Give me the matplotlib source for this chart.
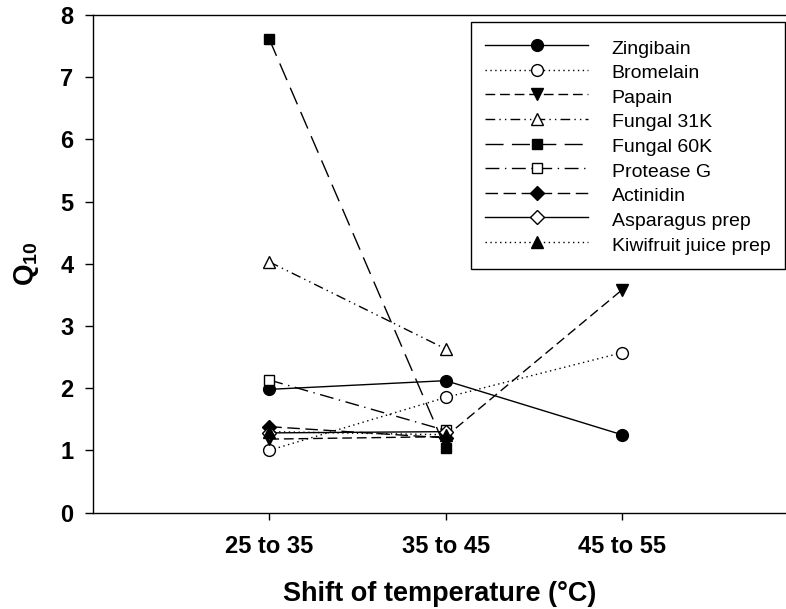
import matplotlib
matplotlib.use("Agg")
import matplotlib.pyplot as plt

plt.rcParams['font.family'] = ['Liberation Sans', 'DejaVu Sans']
plt.rcParams['lines.scale_dashes'] = False
plt.rcParams['mathtext.fontset'] = 'custom'
plt.rcParams['mathtext.rm'] = 'Liberation Sans:bold'
plt.rcParams['mathtext.bf'] = 'Liberation Sans:bold'

categories = ["25 to 35", "35 to 45", "45 to 55"]
yticks = [0, 1, 2, 3, 4, 5, 6, 7, 8]

zingibain = [1.98, 2.12, 1.25]
bromelain = [1.00, 1.85, 2.57]
papain = [1.18, 1.22, 3.58]
fungal31k = [4.03, 2.63]
fungal60k = [7.61, 1.03]
proteaseg = [2.13, 1.32]
actinidin = [1.38, 1.20]
asparagus = [1.28, 1.30]
kiwifruit = [1.30, 1.25]

series = [
    ("Zingibain", zingibain, dict(ls='-', marker='o', mfc='black')),
    ("Bromelain", bromelain, dict(ls=(0, (1, 2.5)), marker='o', mfc='white')),
    ("Papain", papain, dict(ls=(0, (7, 3.5)), marker='v', mfc='black')),
    ("Fungal 31K", fungal31k, dict(ls=(0, (7, 3, 1, 3, 1, 3)), marker='^', mfc='white')),
    ("Fungal 60K", fungal60k, dict(ls=(0, (13, 6)), marker='s', mfc='black')),
    ("Protease G", proteaseg, dict(ls=(0, (10, 4, 1, 4)), marker='s', mfc='white')),
    ("Actinidin", actinidin, dict(ls=(0, (9, 4)), marker='D', mfc='black')),
    ("Asparagus prep", asparagus, dict(ls='-', marker='D', mfc='white')),
    ("Kiwifruit juice prep", kiwifruit, dict(ls=(0, (1, 2.5)), marker='^', mfc='black')),
]

fig = plt.figure(figsize=(7.86, 6.09), dpi=100)
ax = fig.add_axes([93/786, 1 - 512.5/609, 1 - 93/786, (512.5 - 15)/609])

xpos = [1, 2, 3]
for name, vals, st in series:
    ms = 8.5
    if st['marker'] in ('D', 's'):
        ms = 7.5
    ax.plot(xpos[:len(vals)], vals, color='black', lw=1.0, ls=st['ls'],
            marker=st['marker'], mfc=st['mfc'], mec='black', mew=1.0,
            ms=ms, label=name)

ax.set_xlim(0, 3.93)
ax.set_ylim(0, 8)
ax.set_xticks(xpos)
ax.set_xticklabels(categories, fontsize=17, fontweight='bold')
ax.set_yticks(yticks)
ax.set_yticklabels([str(v) for v in yticks], fontsize=17, fontweight='bold')
ax.tick_params(axis='x', direction='out', length=5, width=1, pad=11)
ax.tick_params(axis='y', direction='out', length=6, width=1, pad=8)
ax.spines['right'].set_visible(False)
for s in ['left', 'bottom', 'top']:
    ax.spines[s].set_linewidth(1.0)

ax.set_xlabel("Shift of temperature (°C)", fontsize=19.5, fontweight='bold', labelpad=16.5)
ax.set_ylabel(r"Q$_{10}$", fontsize=20, fontweight='bold', labelpad=14)

leg = ax.legend(loc='upper right', bbox_to_anchor=(785/786, 1 - 22/609),
                bbox_transform=fig.transFigure, borderaxespad=0,
                fontsize=14, numpoints=1, handlelength=5.3, handletextpad=1.2,
                handleheight=1.27, labelspacing=0.19, borderpad=0.75,
                fancybox=False, framealpha=1, edgecolor='black')
leg.get_frame().set_linewidth(1.0)

fig.savefig("out.png", dpi=100)
